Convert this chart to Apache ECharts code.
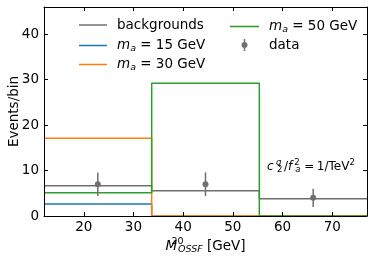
<!DOCTYPE html>
<html><head><meta charset="utf-8">
<script src="https://cdn.jsdelivr.net/npm/echarts@6/dist/echarts.min.js"></script>
<style>html,body{margin:0;padding:0;background:#fff}#c{width:374px;height:260px}</style>
</head><body><div id="c"></div>
<script>
// ---- data ----
const binEdges = [12, 33.67, 55.33, 77];
const backgrounds = [6.66, 5.56, 3.8];
const ma15 = [2.64, 0, 0];
const ma30 = [17.1, 0, 0];
const ma50 = [5.1, 29.2, 0];
const dataX = [22.83, 44.5, 66.17];
const dataY = [7, 7, 4];
const dataErr = [2.6, 2.6, 2.0];
const xTicks = [20, 30, 40, 50, 60, 70];
const yTicks = [0, 10, 20, 30, 40];
const xRange = [12, 77];
const yRange = [0, 46];

// ---- styling ----
const FONT = 'DejaVu Sans';
const GRAY = '#707070';
const C15 = '#1f77b4', C30 = '#ff7f0e', C50 = '#2ca02c';
const LINE_ICON = 'path://M0,0H28V1.5H0Z';
const DATA_ICON = 'path://M0,6L0.01,6L0,6.01Z M29,6L28.99,6L29,6.01Z M13.75,0H15.25V12H13.75Z M17.5,6A3,3,0,1,1,11.5,6A3,3,0,1,1,17.5,6Z';

function stepPts(edges, vals) {
  const p = [];
  vals.forEach((v, i) => { p.push([edges[i], v]); p.push([edges[i + 1], v]); });
  return p;
}

function xAx(pos, showLabel) {
  return {
    type: 'value', position: pos, min: xRange[0], max: xRange[1], z: 10,
    axisLine: { show: true, onZero: false, lineStyle: { color: '#000', width: 1 } },
    axisTick: { show: true, inside: true, length: 4, lineStyle: { color: '#000', width: 1 }, customValues: xTicks },
    axisLabel: { show: showLabel, customValues: xTicks, color: '#000', fontSize: 13.5, fontFamily: FONT, margin: 4 },
    splitLine: { show: false }
  };
}
function yAx(pos, showLabel) {
  return {
    type: 'value', position: pos, min: yRange[0], max: yRange[1], z: 10,
    axisLine: { show: true, onZero: false, lineStyle: { color: '#000', width: 1 } },
    axisTick: { show: true, inside: true, length: 4, lineStyle: { color: '#000', width: 1 }, customValues: yTicks },
    axisLabel: { show: showLabel, customValues: yTicks, color: '#000', fontSize: 13.5, fontFamily: FONT, margin: 5 },
    splitLine: { show: false }
  };
}

const baseT = { fontSize: 13.5, fontFamily: FONT, color: '#000', lineHeight: 14 };
const legRich = {
  t0: Object.assign({}, baseT, { padding: [0, 0, 0, 5] }),
  t: Object.assign({}, baseT),
  mi0: Object.assign({}, baseT, { fontStyle: 'italic', padding: [0, 0, 0, 5] }),
  sb: { fontSize: 9.5, fontFamily: FONT, color: '#000', fontStyle: 'italic', lineHeight: 7, padding: [7, 0, 0, 0] }
};
const legLabels = {
  'backgrounds': '{t0|backgrounds}',
  'ma15': '{mi0|m}{sb|a}{t| = 15 GeV}',
  'ma30': '{mi0|m}{sb|a}{t| = 30 GeV}',
  'ma50': '{mi0|m}{sb|a}{t| = 50 GeV}',
  'data': '{t0|data}'
};
function legend(items, left, top, extra) {
  return Object.assign({
    data: items, left: left, top: top, orient: 'vertical', padding: 0,
    itemWidth: 28, itemHeight: 14, itemGap: 5, selectedMode: false,
    formatter: n => legLabels[n],
    textStyle: { rich: legRich, fontFamily: FONT, fontSize: 13.5, color: '#000' }
  }, extra || {});
}
const li = n => ({ name: n, icon: LINE_ICON });

function stepSeries(name, vals, color) {
  return {
    name: name, type: 'line', data: stepPts(binEdges, vals), symbol: 'none', showSymbol: false,
    lineStyle: { color: color, width: 1.5 }, itemStyle: { color: color }, animation: false, z: 2
  };
}

const sm = { fontSize: 8.5, fontFamily: FONT, fill: '#000', lineHeight: 9 };
const chart = echarts.init(document.getElementById('c'), null, { renderer: 'canvas' });
const option = {
  animation: false,
  backgroundColor: '#fff',
  grid: { left: 44, right: 7, top: 7, bottom: 44, outerBoundsMode: 'none', containLabel: false },
  xAxis: [
    Object.assign(xAx('bottom', true), {
      name: '{mi|M}{upw|20}{sb|OSSF}{t| [GeV]}', nameLocation: 'middle', nameGap: 22, nameMoveOverlap: false,
      nameTextStyle: {
        rich: {
          t: Object.assign({}, baseT, { lineHeight: 16 }),
          mi: Object.assign({}, baseT, { fontStyle: 'italic', lineHeight: 16 }),
          upw: { fontSize: 9.5, fontFamily: FONT, color: '#000', lineHeight: 10, padding: [0, 0, 9, 0], width: 1 },
          sb: { fontSize: 9.5, fontFamily: FONT, color: '#000', fontStyle: 'italic', lineHeight: 10, padding: [7, 0, 0, 0] }
        }
      }
    }),
    xAx('top', false)
  ],
  yAxis: [
    Object.assign(yAx('left', true), {
      name: 'Events/bin', nameLocation: 'middle', nameGap: 23, nameMoveOverlap: false,
      nameTextStyle: { fontSize: 13.5, fontFamily: FONT, color: '#000' }
    }),
    yAx('right', false)
  ],
  legend: [
    legend([li('backgrounds')], 79, 18),
    legend([li('ma15')], 79, 37),
    legend([li('ma30')], 79, 56),
    legend([li('ma50')], 230, 18, { itemWidth: 29 }),
    legend([{ name: 'data', icon: DATA_ICON }], 230, 38, { itemWidth: 29, itemHeight: 12 })
  ],
  graphic: [{
    type: 'text', left: 267, top: 158, z: 10,
    style: {
      text: '{c|c}{upw|q}{dn|2}{sl|/}{f|f}{upw2|2}{dni|a}{t| =}{t1|1/TeV}{up|2}',
      rich: {
        t: { fontSize: 12, fontFamily: FONT, fill: '#000', lineHeight: 14 },
        t1: { fontSize: 12, fontFamily: FONT, fill: '#000', lineHeight: 14, padding: [0, 0, 0, 2.5] },
        sl: { fontSize: 12, fontFamily: FONT, fill: '#000', lineHeight: 14, padding: [0, 0, 0, 1.5] },
        c: { fontSize: 12, fontFamily: FONT, fill: '#000', lineHeight: 14, fontStyle: 'italic', padding: [0, 2.5, 0, 0] },
        f: { fontSize: 12, fontFamily: FONT, fill: '#000', lineHeight: 14, fontStyle: 'italic', padding: [0, 2, 0, 0] },
        upw: Object.assign({}, sm, { padding: [0, 0, 8, 0], width: 1, fontStyle: 'italic' }),
        upw2: Object.assign({}, sm, { padding: [0, 0, 8, 0], width: 1 }),
        up: Object.assign({}, sm, { padding: [0, 0, 8, 0] }),
        dn: Object.assign({}, sm, { padding: [6, 0, 0, 0] }),
        dni: Object.assign({}, sm, { padding: [6, 0, 0, 0], fontStyle: 'italic' })
      }
    }
  }],
  series: [
    stepSeries('backgrounds', backgrounds, GRAY),
    stepSeries('ma15', ma15, C15),
    stepSeries('ma30', ma30, C30),
    stepSeries('ma50', ma50, C50),
    {
      name: 'data', type: 'custom', itemStyle: { color: GRAY }, z: 3,
      data: dataX.map((x, i) => [x, dataY[i], dataErr[i]]),
      encode: { x: 0, y: 1 },
      renderItem: function (params, api) {
        const x = api.value(0), y = api.value(1), e = api.value(2);
        const p = api.coord([x, y]);
        const lo = api.coord([x, y - e]);
        const hi = api.coord([x, y + e]);
        return {
          type: 'group', children: [
            { type: 'line', shape: { x1: p[0], y1: lo[1], x2: p[0], y2: hi[1] }, style: { stroke: GRAY, lineWidth: 1.5 } },
            { type: 'circle', shape: { cx: p[0], cy: p[1], r: 3 }, style: { fill: GRAY } }
          ]
        };
      }
    }
  ]
};
chart.setOption(option);
</script>
</body></html>
